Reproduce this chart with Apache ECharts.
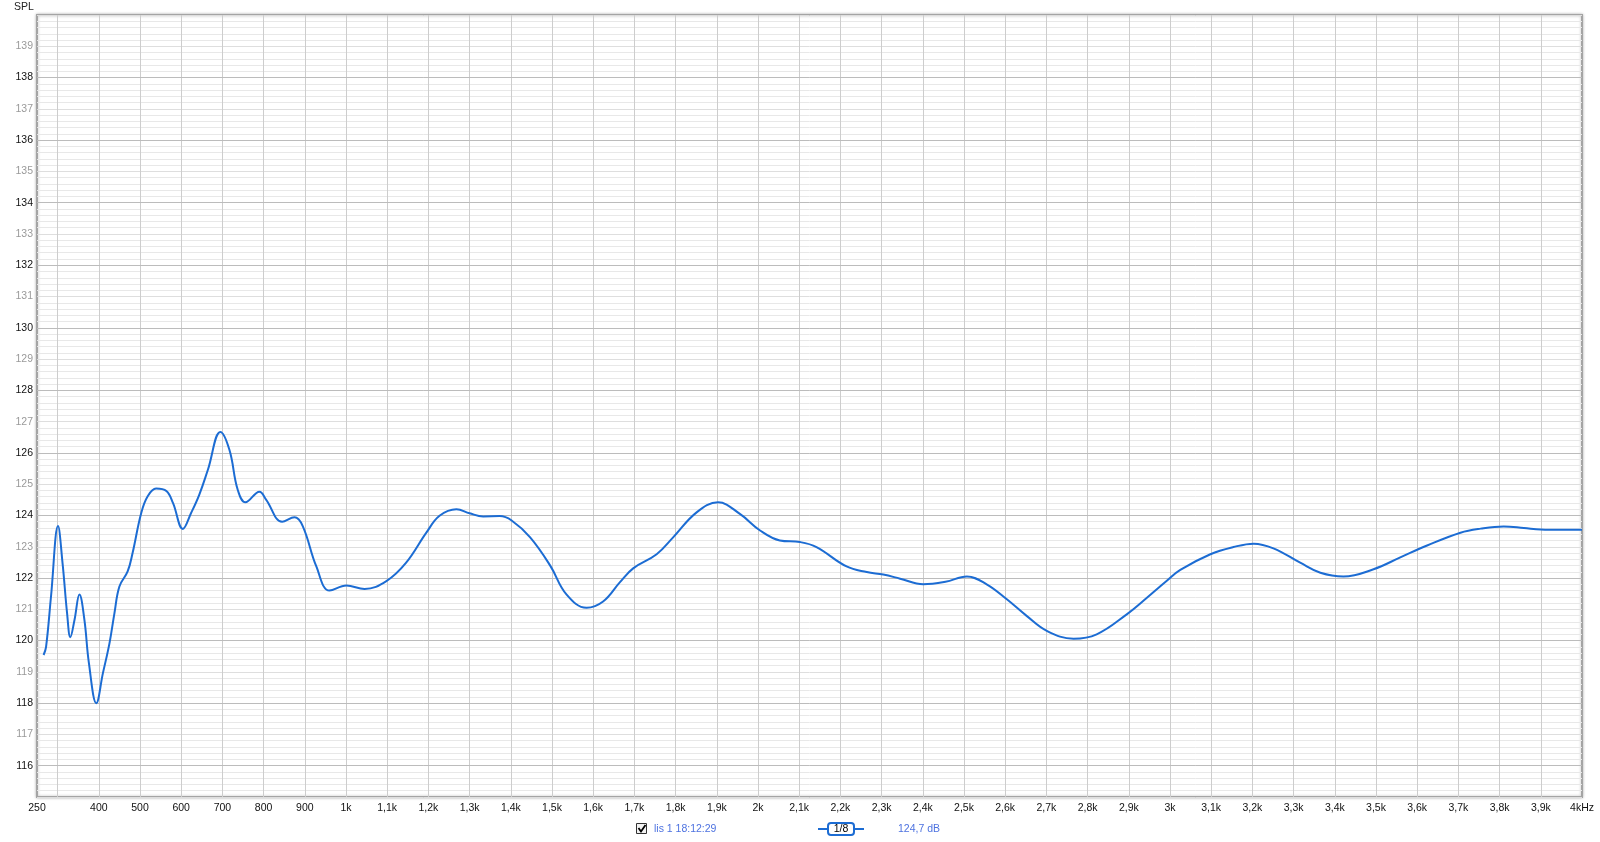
<!DOCTYPE html>
<html>
<head>
<meta charset="utf-8">
<script src="https://cdn.jsdelivr.net/npm/echarts@6/dist/echarts.min.js"></script>
<style>
html,body{margin:0;padding:0;background:#fff;}
#c{width:1600px;height:842px;}
</style>
</head>
<body>
<div id="c"></div>
<script>
// Frequency (Hz) and SPL (dB) of the measured response
const freqs = [266,272,284,301,312,323,331,341,353,365,376,394,410,426,438,450,470,482,503,519,539,564,580,604,624,644,665,695,717,737,756,790,806,845,875,895,928,960,1001,1045,1098,1146,1195,1227,1268,1300,1333,1373,1402,1447,1496,1535,1584,1624,1665,1697,1754,1794,1851,1903,1956,2005,2053,2102,2142,2215,2264,2304,2345,2401,2455,2507,2555,2604,2652,2701,2766,2822,2895,2944,2993,3025,3098,3154,3203,3251,3316,3365,3421,3494,3559,3624,3705,3754,3810,3859,3900,3948,4000];
const spl = [119.54,119.8,121.41,123.66,122.48,120.88,120.11,120.66,121.47,120.67,119.28,118.0,118.96,119.92,120.88,121.73,122.21,122.8,124.08,124.62,124.86,124.78,124.4,123.57,124.08,124.67,125.47,126.67,126.1,124.83,124.42,124.76,124.51,123.8,123.94,123.66,122.37,121.6,121.76,121.65,121.9,122.49,123.45,123.99,124.2,124.07,123.97,123.98,123.84,123.3,122.39,121.48,121.05,121.25,121.87,122.31,122.76,123.3,124.1,124.42,124.05,123.52,123.2,123.15,122.99,122.37,122.19,122.11,121.98,121.8,121.88,122.05,121.8,121.32,120.79,120.31,120.06,120.2,120.84,121.37,121.92,122.26,122.76,122.99,123.1,122.95,122.49,122.17,122.05,122.28,122.66,123.04,123.45,123.58,123.65,123.6,123.55,123.54,123.54];

// Vertical grid lines (Hz) and darker horizontal grid lines (dB)
const xGridLines = [300,400,500,600,700,800,900,1000,1100,1200,1300,1400,1500,1600,1700,1800,1900,2000,2100,2200,2300,2400,2500,2600,2700,2800,2900,3000,3100,3200,3300,3400,3500,3600,3700,3800,3900];
const yMajorLines = [116,118,120,122,124,126,128,130,132,134,136,138];

const seriesName = 'lis 1 18:12:29';
const legendValue = '124,7 dB';
const smoothing = '1/8';

const xMin = 250, xMax = 4000;
const yMin = 115, yMax = 140;

const data = freqs.map((f, i) => [f, spl[i]]);

function xLabel(v) {
  if (v === 250) return '250';
  if (v % 100 !== 0 || v === 300) return '';
  if (v === 4000) return '4kHz';
  if (v < 1000) return String(v);
  return String(v / 1000).replace('.', ',') + 'k';
}

const chart = echarts.init(document.getElementById('c'));
const font = 'Liberation Sans, Arial, sans-serif';
const markCommon = {silent: true, symbol: ['none', 'none'], label: {show: false}, animation: false};
chart.setOption({
  animation: false,
  backgroundColor: '#fff',
  grid: {
    left: 37, right: 18, top: 15, bottom: 45,
    show: true, borderColor: '#a4a4a4', borderWidth: 2,
    backgroundColor: '#fff',
    shadowColor: 'rgba(0,0,0,0.25)', shadowBlur: 3, shadowOffsetX: 0, shadowOffsetY: 0
  },
  xAxis: {
    type: 'value', min: xMin, max: xMax, interval: 50,
    axisLine: {show: false}, axisTick: {show: false},
    axisLabel: {
      formatter: xLabel, color: '#111', fontSize: 10.5, fontFamily: font, margin: 6,
      showMinLabel: true, showMaxLabel: true
    },
    splitLine: {show: false}
  },
  yAxis: {
    type: 'value', min: yMin, max: yMax, interval: 1,
    axisLine: {show: false}, axisTick: {show: false},
    axisLabel: {
      formatter: v => (v === yMin || v === yMax) ? '' : String(v),
      color: v => (v % 2 === 0 ? '#111' : '#9a9a9a'),
      fontSize: 10.5, fontFamily: font, margin: 4
    },
    splitLine: {show: true, lineStyle: {color: '#dedede', width: 1}},
    minorTick: {show: false, splitNumber: 5},
    minorSplitLine: {show: true, lineStyle: {color: '#e8e8e8', width: 1}}
  },
  series: [
    {
      type: 'line', data: [], z: 1, silent: true,
      markLine: Object.assign({
        lineStyle: {color: '#cdcdcd', type: 'solid', width: 1},
        data: xGridLines.map(v => ({xAxis: v}))
      }, markCommon)
    },
    {
      type: 'line', data: [], z: 1, silent: true,
      markLine: Object.assign({
        lineStyle: {color: '#bcbcbc', type: 'solid', width: 1},
        data: yMajorLines.map(v => ({yAxis: v}))
      }, markCommon)
    },
    {
      name: seriesName,
      type: 'line',
      z: 5,
      data: data,
      smooth: 0.4,
      showSymbol: false,
      lineStyle: {color: '#1c6cd3', width: 2},
      itemStyle: {color: '#1c6cd3'}
    }
  ],
  graphic: [
    {type: 'text', left: 14, top: 2, style: {text: 'SPL', fill: '#222', font: '10.5px ' + font}},
    {type: 'rect', shape: {x: 636.5, y: 823.5, width: 10, height: 10}, style: {fill: '#f2f2f2', stroke: '#333', lineWidth: 1}},
    {type: 'polyline', shape: {points: [[638.5, 828], [641, 831.5], [645.5, 825]]}, style: {stroke: '#000', lineWidth: 1.8, fill: null}},
    {type: 'text', x: 654, y: 829, style: {text: seriesName, fill: '#4d72e0', font: '10.5px ' + font, verticalAlign: 'middle'}},
    {type: 'line', shape: {x1: 818, y1: 829, x2: 864, y2: 829}, style: {stroke: '#1c6cd3', lineWidth: 2}},
    {type: 'rect', shape: {x: 828, y: 823, width: 26, height: 12, r: 3}, style: {fill: '#fff', stroke: '#1c6cd3', lineWidth: 2}},
    {type: 'text', x: 841, y: 829.5, style: {text: smoothing, fill: '#000', font: '10.5px ' + font, align: 'center', verticalAlign: 'middle'}},
    {type: 'text', x: 898, y: 829, style: {text: legendValue, fill: '#4d72e0', font: '10.5px ' + font, verticalAlign: 'middle'}}
  ]
});
</script>
</body>
</html>
